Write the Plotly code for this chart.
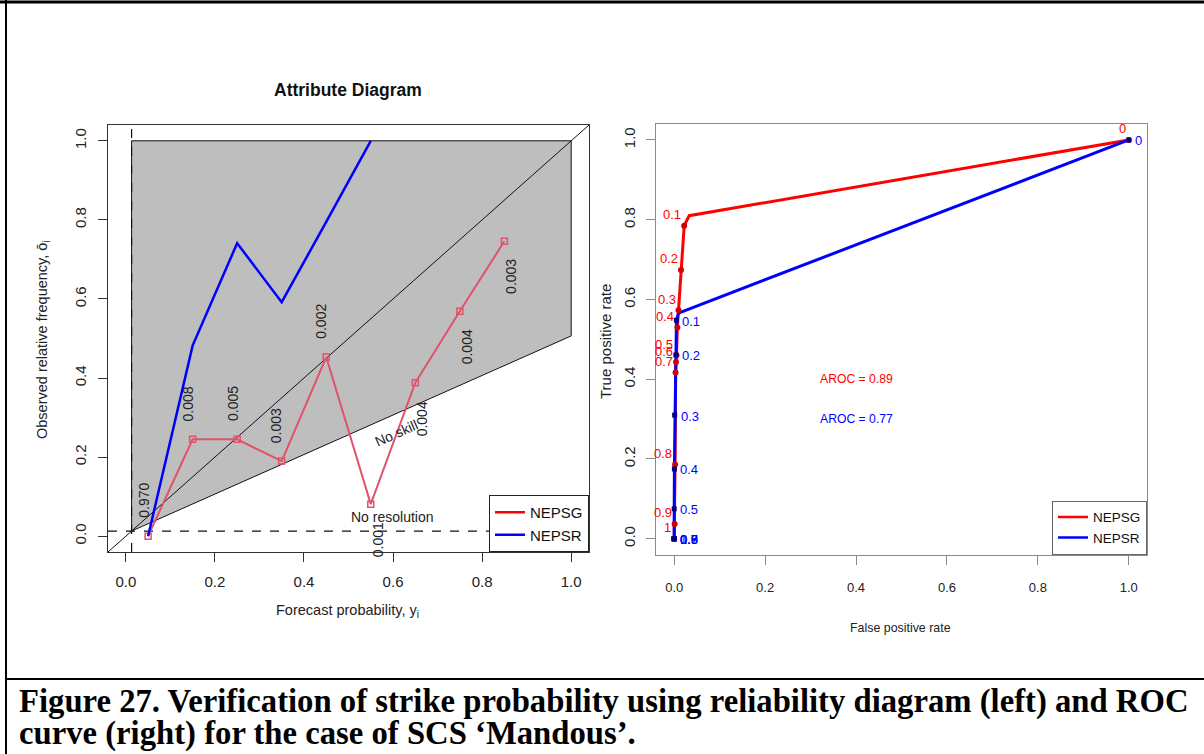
import plotly.graph_objects as go

W, H = 1204, 754

# ---- Attribute (reliability) diagram data ----
fcst_prob = [0.05, 0.15, 0.25, 0.35, 0.45, 0.55, 0.65, 0.75, 0.85]
obs_freq_nepsg = [0.0, 0.245, 0.245, 0.19, 0.453, 0.081, 0.388, 0.569, 0.746]
fcst_rel_freq = ["0.970", "0.008", "0.005", "0.003", "0.002", "0.001", "0.004", "0.004", "0.003"]
fcst_prob_nepsr = [0.05, 0.15, 0.25, 0.35, 0.45, 0.55]
obs_freq_nepsr = [0.0, 0.482, 0.741, 0.592, 0.795, 1.0]
climatology = 0.013

# ---- ROC data ----
thresholds = ["0", "0.1", "0.2", "0.3", "0.4", "0.5", "0.6", "0.7", "0.8", "0.9", "1"]
nepsg_fpr = [1.0, 0.022, 0.015, 0.0095, 0.007, 0.005, 0.004, 0.003, 0.002, 0.001, 0.0]
nepsg_tpr = [1.0, 0.785, 0.674, 0.573, 0.53, 0.46, 0.443, 0.417, 0.186, 0.037, 0.0]
nepsr_fpr = [1.0, 0.005, 0.004, 0.001, 0.0005, 0.0, 0.0, 0.0, 0.0, 0.0, 0.0]
nepsr_tpr = [1.0, 0.548, 0.461, 0.31, 0.175, 0.075, 0.0, 0.0, 0.0, 0.0, 0.0]
# polyline vertices of the drawn curves
nepsg_curve_fpr = [1.0, 0.033, 0.022, 0.015, 0.0095, 0.007, 0.005, 0.004, 0.003, 0.002, 0.001, 0.0]
nepsg_curve_tpr = [1.0, 0.81, 0.785, 0.674, 0.573, 0.53, 0.46, 0.443, 0.417, 0.186, 0.037, 0.0]
nepsr_curve_fpr = [1.0, 0.0095, 0.005, 0.004, 0.001, 0.0005, 0.0, 0.0]
nepsr_curve_tpr = [1.0, 0.566, 0.548, 0.461, 0.31, 0.175, 0.075, 0.0]
aroc_nepsg = "0.89"
aroc_nepsr = "0.77"

tick_vals = [0, 0.2, 0.4, 0.6, 0.8, 1.0]
tick_text = ["0.0", "0.2", "0.4", "0.6", "0.8", "1.0"]

SANS = "Liberation Sans, Arial, sans-serif"
SERIF = "Liberation Serif, Times New Roman, serif"
RED = "#FF0000"
BLUE = "#0000FF"
PINK = "#DF536B"
TXT = "#222222"


def px_x(p):
    return p / W


def px_y(p):
    return 1 - p / H


fig = go.Figure()

# skill region polygon
clim = climatology
fig.add_trace(go.Scatter(
    x=[clim, 1, 1, clim, clim], y=[clim, (1 + clim) / 2, 1, 1, clim],
    fill="toself", fillcolor="#BEBEBE", mode="lines",
    line=dict(color="#111111", width=1), showlegend=False, hoverinfo="skip",
    xaxis="x", yaxis="y"))
# perfect reliability diagonal
fig.add_trace(go.Scatter(x=[-0.04, 1.04], y=[-0.04, 1.04], mode="lines",
                         line=dict(color="#111111", width=1), showlegend=False,
                         xaxis="x", yaxis="y"))
# climatology lines
fig.add_trace(go.Scatter(x=[-0.04, 1.04], y=[clim, clim], mode="lines",
                         line=dict(color="#111111", width=1.2, dash="dash"), showlegend=False,
                         xaxis="x", yaxis="y"))
fig.add_trace(go.Scatter(x=[clim, clim], y=[-0.04, 1.04], mode="lines",
                         line=dict(color="#111111", width=1.2, dash="dash"), showlegend=False,
                         xaxis="x", yaxis="y"))
# NEPSG reliability
fig.add_trace(go.Scatter(x=fcst_prob, y=obs_freq_nepsg, mode="lines+markers",
                         line=dict(color=PINK, width=2),
                         marker=dict(symbol="square-open", size=6, color=PINK, line=dict(width=1.5)),
                         showlegend=False, xaxis="x", yaxis="y"))
# NEPSR reliability
fig.add_trace(go.Scatter(x=fcst_prob_nepsr, y=obs_freq_nepsr, mode="lines",
                         line=dict(color=BLUE, width=2.5), showlegend=False,
                         xaxis="x", yaxis="y"))
# left legend entries
fig.add_trace(go.Scatter(x=[None], y=[None], mode="lines", name="NEPSG",
                         line=dict(color=RED, width=2.5), legend="legend", xaxis="x", yaxis="y"))
fig.add_trace(go.Scatter(x=[None], y=[None], mode="lines", name="NEPSR",
                         line=dict(color=BLUE, width=2.5), legend="legend", xaxis="x", yaxis="y"))

# ROC curves
fig.add_trace(go.Scatter(x=nepsg_curve_fpr, y=nepsg_curve_tpr, mode="lines",
                         line=dict(color=RED, width=3), showlegend=False, xaxis="x2", yaxis="y2"))
fig.add_trace(go.Scatter(x=nepsr_curve_fpr, y=nepsr_curve_tpr, mode="lines",
                         line=dict(color=BLUE, width=3), showlegend=False, xaxis="x2", yaxis="y2"))
fig.add_trace(go.Scatter(x=nepsg_fpr, y=nepsg_tpr, mode="markers",
                         marker=dict(symbol="circle", size=6, color="#D00000"),
                         showlegend=False, xaxis="x2", yaxis="y2"))
fig.add_trace(go.Scatter(x=nepsr_fpr, y=nepsr_tpr, mode="markers",
                         marker=dict(symbol="square", size=5, color="#000080"),
                         showlegend=False, xaxis="x2", yaxis="y2"))
fig.add_trace(go.Scatter(x=[None], y=[None], mode="lines", name="NEPSG",
                         line=dict(color=RED, width=2.5), legend="legend2", xaxis="x2", yaxis="y2"))
fig.add_trace(go.Scatter(x=[None], y=[None], mode="lines", name="NEPSR",
                         line=dict(color=BLUE, width=2.5), legend="legend2", xaxis="x2", yaxis="y2"))


def label(x, y, text, size, color=TXT, ref=("paper", "paper"), angle=0, family=SANS, **kw):
    d = dict(x=x, y=y, xref=ref[0], yref=ref[1], text=text, showarrow=False, textangle=angle,
             xanchor="center", yanchor="middle", font=dict(family=family, size=size, color=color))
    d.update(kw)
    return d


ann = []
# forecast relative frequency labels
for i, (xv, yv, lab) in enumerate(zip(fcst_prob, obs_freq_nepsg, fcst_rel_freq)):
    above = i < 5
    ann.append(label(xv + (-0.011 if above else 0.015), yv + (0.09 if above else -0.09), lab, 14,
                     ref=("x", "y"), angle=-90))
ann.append(label(0.598, 0.049, "No resolution", 14, ref=("x", "y")))
ann.append(label(0.608, 0.26, "No skill", 14, ref=("x", "y"), angle=-24))

# ROC threshold labels
for xv, yv, lab in zip(nepsg_fpr, nepsg_tpr, thresholds):
    ann.append(label(xv, yv, lab, 13, color=RED, ref=("x2", "y2"), xanchor="right", xshift=-1, yshift=11))
for xv, yv, lab in zip(nepsr_fpr, nepsr_tpr, thresholds):
    ann.append(label(xv, yv, lab, 13, color=BLUE, ref=("x2", "y2"), xanchor="left", xshift=4, yshift=-1))
ann.append(label(0.4, 0.4, "AROC = " + aroc_nepsg, 12.2, color=RED, ref=("x2", "y2")))
ann.append(label(0.4, 0.3, "AROC = " + aroc_nepsr, 12.2, color=BLUE, ref=("x2", "y2")))

# titles
ann.append(label(px_x(348), px_y(90), "<b>Attribute Diagram</b>", 17.5, color="#111111"))
ann.append(label(px_x(347.5), px_y(611), "Forecast probability, y<sub>i</sub>", 14.5))
ann.append(label(px_x(43), px_y(340), "Observed relative frequency, ō<sub>i</sub>", 14.5, angle=-90))
ann.append(label(px_x(900), px_y(628), "False positive rate", 12.4))
ann.append(label(px_x(605), px_y(342), "True positive rate", 15, angle=-90))

# caption
ann.append(label(px_x(17), px_y(701),
                 "<b>Figure 27. Verification of strike probability using reliability diagram (left) and ROC</b>",
                 32.7, color="black", family=SERIF, xanchor="left"))
ann.append(label(px_x(17), px_y(733),
                 "<b>curve (right) for the case of SCS \u2018Mandous\u2019.</b>",
                 32.7, color="black", family=SERIF, xanchor="left"))

axis_common = dict(range=[-0.04, 1.04], tickvals=tick_vals, ticktext=tick_text, showgrid=False,
                   zeroline=False, showline=True, mirror=True, ticks="outside", ticklen=9)

fig.update_layout(
    width=W, height=H, margin=dict(l=0, r=0, t=0, b=0),
    paper_bgcolor="white", plot_bgcolor="white",
    xaxis=dict(domain=[px_x(108), px_x(589)], anchor="y", linecolor="#333333", tickcolor="#333333",
               ticklabelstandoff=7, tickfont=dict(family=SANS, size=15, color=TXT), **axis_common),
    yaxis=dict(domain=[px_y(552), px_y(125)], anchor="x", linecolor="#333333", tickcolor="#333333",
               tickangle=-90, ticklabelstandoff=6, tickfont=dict(family=SANS, size=15, color=TXT),
               **axis_common),
    xaxis2=dict(domain=[px_x(656), px_x(1147)], anchor="y2", linecolor="#8A8A8A", tickcolor="#8A8A8A",
                ticklabelstandoff=12, tickfont=dict(family=SANS, size=13, color=TXT), **axis_common),
    yaxis2=dict(domain=[px_y(554.7), px_y(124)], anchor="x2", linecolor="#8A8A8A", tickcolor="#8A8A8A",
                tickangle=-90, ticklabelstandoff=5, tickfont=dict(family=SANS, size=15, color=TXT),
                **axis_common),
    legend=dict(x=px_x(589), xanchor="right", y=px_y(552), yanchor="bottom", bgcolor="white",
                bordercolor="#222222", borderwidth=1, font=dict(family=SANS, size=15, color="#111111"),
                tracegroupgap=0, itemwidth=30),
    legend2=dict(x=px_x(1147), xanchor="right", y=px_y(554.7), yanchor="bottom", bgcolor="white",
                 bordercolor="#666666", borderwidth=1, font=dict(family=SANS, size=13.5, color="#111111"),
                 tracegroupgap=0, itemwidth=30),
    annotations=ann,
    shapes=[
        dict(type="line", xref="paper", yref="paper", x0=0, x1=1, y0=px_y(2), y1=px_y(2),
             line=dict(color="black", width=3)),
        dict(type="line", xref="paper", yref="paper", x0=px_x(6), x1=px_x(6), y0=0, y1=1,
             line=dict(color="black", width=2)),
        dict(type="line", xref="paper", yref="paper", x0=px_x(6), x1=1, y0=px_y(679), y1=px_y(679),
             line=dict(color="black", width=2)),
    ],
)

fig.write_html("out.html")
